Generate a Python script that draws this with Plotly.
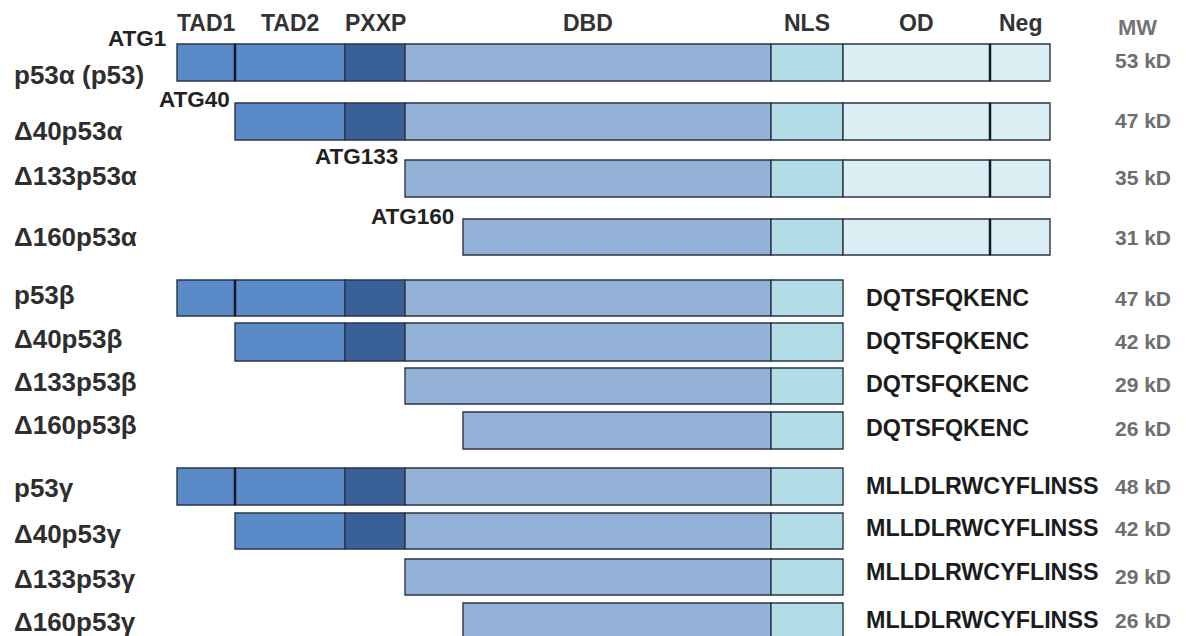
import plotly.graph_objects as go

# ---------------- data ----------------
isoforms = ["p53α (p53)", "Δ40p53α", "Δ133p53α", "Δ160p53α",
            "p53β", "Δ40p53β", "Δ133p53β", "Δ160p53β",
            "p53γ", "Δ40p53γ", "Δ133p53γ", "Δ160p53γ"]
# schematic start / end position of each isoform (schematic units)
iso_start = [177, 235, 405, 463, 177, 235, 405, 463, 177, 235, 405, 463]
iso_end = [1050, 1050, 1050, 1050, 843, 843, 843, 843, 843, 843, 843, 843]
# row extent (top / bottom) on the vertical schematic scale
row_top = [44, 103, 160, 219, 280, 323, 368, 412, 468, 513, 559, 603]
row_bottom = [81, 140, 197, 255, 316, 361, 404, 449, 505, 549, 595, 640]
label_y = [75, 131, 176, 237, 295, 339, 382, 425, 488, 534, 579, 622]

domains = ["TAD1", "TAD2", "PXXP", "DBD", "NLS", "OD", "Neg"]
domain_edges = [177, 235, 345, 405, 771, 843, 990, 1050]
domain_colors = ["#5a8ac8", "#5a8ac8", "#3a6098", "#94b1d8",
                 "#b3dde6", "#daeef4", "#daeef4"]
header_y = 23

atg_labels = ["ATG1", "ATG40", "ATG133", "ATG160"]
atg_pos = [168, 232, 400, 456]
atg_y = [38, 99, 156, 216]

c_term = ["", "", "", "",
          "DQTSFQKENC", "DQTSFQKENC", "DQTSFQKENC", "DQTSFQKENC",
          "MLLDLRWCYFLINSS", "MLLDLRWCYFLINSS", "MLLDLRWCYFLINSS", "MLLDLRWCYFLINSS"]
mw = ["53 kD", "47 kD", "35 kD", "31 kD",
      "47 kD", "42 kD", "29 kD", "26 kD",
      "48 kD", "42 kD", "29 kD", "26 kD"]
mw_y = [60, 120, 177, 237, 298, 341, 384, 428, 486, 528, 576, 620]
cterm_y = [60, 120, 177, 237, 298, 341, 384, 428, 486, 528, 572, 620]

# thick dividers (TAD1|TAD2 in full-length, OD|Neg in alpha isoforms)
thick_div_pos = [235, 990]

# ---------------- figure ----------------
FONT = "Liberation Sans, Arial, sans-serif"
fig = go.Figure()

for d, name in enumerate(domains):
    lo, hi = domain_edges[d], domain_edges[d + 1]
    ys, bases, lens, widths = [], [], [], []
    for i in range(len(isoforms)):
        s = max(lo, iso_start[i])
        e = min(hi, iso_end[i])
        if e > s:
            ys.append((row_top[i] + row_bottom[i]) / 2)
            bases.append(s)
            lens.append(e - s)
            widths.append(row_bottom[i] - row_top[i])
    fig.add_trace(go.Bar(
        orientation="h", y=ys, x=lens, base=bases, width=widths,
        marker=dict(color=domain_colors[d], line=dict(color="#2a3646", width=1.4)),
        name=name, showlegend=False, hoverinfo="skip"))

# thick dark dividers
for i in range(len(isoforms)):
    for p in thick_div_pos:
        if iso_start[i] < p < iso_end[i]:
            fig.add_trace(go.Scatter(
                x=[p, p], y=[row_top[i], row_bottom[i]], mode="lines",
                line=dict(color="#121a26", width=2.5),
                showlegend=False, hoverinfo="skip"))

ann = []
# domain headers
for d, name in enumerate(domains):
    cx = (domain_edges[d] + domain_edges[d + 1]) / 2
    ann.append(dict(x=cx, y=header_y, text="<b>%s</b>" % name, showarrow=False,
                    xanchor="center", yanchor="middle",
                    font=dict(family=FONT, size=23, color="#333333")))
ann.append(dict(x=1137, y=27, text="<b>MW</b>", showarrow=False,
                xanchor="center", yanchor="middle",
                font=dict(family=FONT, size=22, color="#747474")))

# isoform names
for i, name in enumerate(isoforms):
    ann.append(dict(x=12, y=label_y[i], text="<b>%s</b>" % name, showarrow=False,
                    xanchor="left", yanchor="middle",
                    font=dict(family=FONT, size=26, color="#2e2e2e")))
# ATG labels
for k, t in enumerate(atg_labels):
    ann.append(dict(x=atg_pos[k], y=atg_y[k], text="<b>%s</b>" % t, showarrow=False,
                    xanchor="right", yanchor="middle",
                    font=dict(family=FONT, size=22.5, color="#222222")))
# C-terminal sequences and MW
for i in range(len(isoforms)):
    if c_term[i]:
        ann.append(dict(x=864, y=cterm_y[i], text="<b>%s</b>" % c_term[i], showarrow=False,
                        xanchor="left", yanchor="middle",
                        font=dict(family=FONT, size=23.3, color="#1c1c1c")))
    ann.append(dict(x=1173, y=mw_y[i], text="<b>%s</b>" % mw[i], showarrow=False,
                    xanchor="right", yanchor="middle",
                    font=dict(family=FONT, size=21, color="#6e6e6e")))

# the page places the figure 8 px in from the top-left corner; offset ranges
OFF = 8
fig.update_layout(
    width=1186, height=636,
    margin=dict(l=0, r=0, t=0, b=0),
    paper_bgcolor="white", plot_bgcolor="white",
    barmode="overlay",
    xaxis=dict(range=[OFF, 1186 + OFF], visible=False, fixedrange=True),
    yaxis=dict(range=[636 + OFF, OFF], visible=False, fixedrange=True),
    annotations=ann,
)

fig.write_html("out.html")
